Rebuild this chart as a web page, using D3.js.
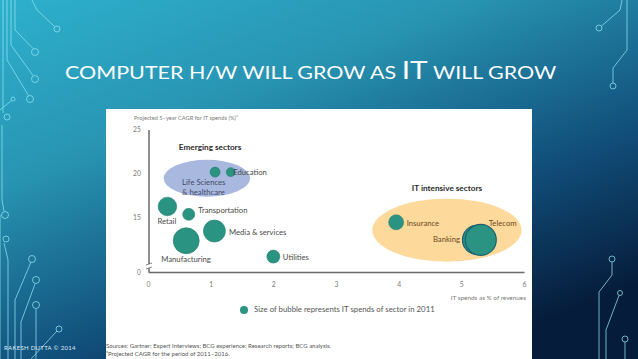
<!DOCTYPE html>
<html>
<head>
<meta charset="utf-8">
<script src="https://cdn.jsdelivr.net/npm/d3@7"></script>
<style>
  html, body { margin: 0; padding: 0; overflow: hidden; }
  svg { display: block; }
</style>
</head>
<body>
<div id="chart"></div>
<script>
// chart values
const sectors = ["Life Sciences & healthcare", "Education", "Retail", "Transportation", "Manufacturing",
  "Media & services", "Utilities", "Insurance", "Banking", "Telecom"];
const itSpendPct = [1.07, 1.32, 0.31, 0.65, 0.61, 1.06, 2.0, 3.96, 5.25, 5.31];  // x: IT spends as % of revenues
const cagr = [20.1, 20.1, 16.2, 15.3, 12.3, 13.4, 10.5, 14.4, 12.4, 12.4];      // y: projected 5-yr CAGR (%)
const spendSize = [25, 20, 86, 36, 169, 121, 42, 56, 210, 240];                 // bubble size: IT spends 2011
const xTicks = [0, 1, 2, 3, 4, 5, 6];
const yTicks = [0, 15, 20, 25];

// label placement (px, relative to bubble centre)
const labelPos = {
  "Education": { dx: 2.5, dy: 1, anchor: "start" },
  "Retail": { dx: -10, dy: 16, anchor: "start" },
  "Transportation": { dx: 9.5, dy: -3, anchor: "start" },
  "Manufacturing": { dx: -25, dy: 19.5, anchor: "start" },
  "Media & services": { dx: 14.5, dy: 2, anchor: "start" },
  "Utilities": { dx: 9.5, dy: 1, anchor: "start" },
  "Insurance": { dx: 10.5, dy: 1.5, anchor: "start" },
  "Banking": { dx: -17, dy: 0.5, anchor: "end" },
  "Telecom": { dx: 8, dy: -16, anchor: "start" }
};

const W = 638, H = 359;

const svg = d3.select("#chart")
  .append("svg")
  .attr("width", W)
  .attr("height", H);

// slide background
const defs = svg.append("defs");
const grad = defs.append("linearGradient")
  .attr("id", "bg")
  .attr("x1", 0).attr("y1", 0).attr("x2", 0.7).attr("y2", 1);
grad.append("stop").attr("offset", "0%").attr("stop-color", "#2db0cd");
grad.append("stop").attr("offset", "35%").attr("stop-color", "#2894b2");
grad.append("stop").attr("offset", "70%").attr("stop-color", "#11507c");
grad.append("stop").attr("offset", "100%").attr("stop-color", "#061c3b");

svg.append("rect").attr("width", W).attr("height", H).attr("fill", "url(#bg)");

// circuit decorations
const deco = svg.append("g")
  .attr("fill", "none")
  .attr("stroke", "#8fe3f2")
  .attr("stroke-opacity", 0.75)
  .attr("stroke-width", 1);
const decoPaths = [
  "M32,0 L37,10 L54.5,26.5", "M15,0 L15,30 L33,48.5", "M11,0 L11,45 L33,75.5",
  "M7,0 L7,60 L28.5,95.5", "M0,110 L11.5,100.5", "M3,0 L3,113", "M2,125 L2,200 L4,211",
  "M0,215 L0,359", "M31,262 L15,300 L15,359", "M35,284 L21,322 L21,359",
  "M36,309 L36,359", "M57,331 L31,359", "M4,243 L8,260 L8,359",
  "M627,0 L627,50 L613,68 L613,83", "M622,0 L620,10 L601.5,26",
  "M612,262 L612,275 L599,292 L599,359", "M619,295.5 L606,330 L606,359", "M625,342 L625,359"
];
decoPaths.forEach(p => deco.append("path").attr("d", p));
[[57, 29, 3], [35, 52, 3.5], [35, 79, 3.5], [30, 99, 3.5], [13, 99, 2], [7, 117, 3],
 [5, 215, 3.5], [6, 239, 3], [32, 259, 3.5], [36, 280, 3.5], [36, 305, 3.5], [59, 329, 3],
 [599, 28, 3], [613, 86, 3], [612, 259, 3], [620, 293, 2.5], [625, 339, 3]]
  .forEach(c => deco.append("circle").attr("cx", c[0]).attr("cy", c[1]).attr("r", c[2]));

// title
const title = svg.append("text")
  .attr("fill", "#ffffff")
  .attr("font-family", "Lato, 'DejaVu Sans', sans-serif")
  .attr("font-size", 18)
  .attr("transform", "translate(65,79)");
title.append("tspan").text("COMPUTER H/W WILL GROW AS ");
title.append("tspan").attr("font-size", 25).text("IT");
title.append("tspan").text(" WILL GROW");
const tw = title.node().getBBox().width;
title.attr("transform", `translate(65,79) scale(${492 / tw},1)`);

// footer
svg.append("text")
  .attr("x", 4).attr("y", 350)
  .attr("fill", "#dfeaf3")
  .attr("font-family", "Lato, sans-serif")
  .attr("font-size", 6)
  .attr("letter-spacing", 0.3)
  .text("RAKESH DUTTA © 2014");

// white chart panel
svg.append("rect")
  .attr("x", 106).attr("y", 109)
  .attr("width", 426).attr("height", 250)
  .attr("fill", "#ffffff");

// scales
const x = d3.scaleLinear().domain([0, 6]).range([148, 524]);
// broken y axis: 0 sits just under the 10 level
const y = d3.scaleLinear().domain([0, 10, 25]).range([272, 261, 129]);
const r = d3.scaleSqrt().domain([0, 240]).range([0, 15.5]);

const chart = svg.append("g").attr("font-family", "Lato, 'Open Sans', sans-serif");

// sector group ellipses
chart.append("ellipse")
  .attr("cx", x(0.94)).attr("cy", y(19.4))
  .attr("rx", x(0.69) - x(0)).attr("ry", y(17.3) - y(19.4))
  .attr("fill", "#a9b8df");
chart.append("ellipse")
  .attr("cx", x(4.77)).attr("cy", y(13.5))
  .attr("rx", x(1.19) - x(0)).attr("ry", y(9.3) - y(13.5))
  .attr("fill", "#fdd99c");

chart.append("text")
  .attr("x", x(0.99)).attr("y", y(22.6))
  .attr("text-anchor", "middle")
  .attr("font-size", 8.2).attr("font-weight", "bold").attr("fill", "#2b2b2b")
  .text("Emerging sectors");
chart.append("text")
  .attr("x", x(4.77)).attr("y", y(17.9))
  .attr("text-anchor", "middle")
  .attr("font-size", 8.2).attr("font-weight", "bold").attr("fill", "#2b2b2b")
  .text("IT intensive sectors");

// axes
const xAxis = chart.append("g")
  .attr("transform", `translate(0,${y(0)})`)
  .call(d3.axisBottom(x).tickValues(xTicks).tickSize(0).tickPadding(10).tickFormat(d3.format("d")));
xAxis.select(".domain").attr("stroke", "#6a6a6a").attr("stroke-width", 1.5);
xAxis.selectAll("text").attr("fill", "#7a7a7a").attr("font-size", 6.8).attr("font-family", "Lato, sans-serif");

const yAxis = chart.append("g")
  .attr("transform", `translate(${x(0) + 1},0)`)
  .call(d3.axisLeft(y).tickValues(yTicks).tickSize(0).tickPadding(8));
yAxis.select(".domain").remove();
yAxis.selectAll("text").attr("fill", "#7a7a7a").attr("font-size", 6.8).attr("font-family", "Lato, sans-serif");

// y axis line with break
const ax = x(0) + 1;
chart.append("path")
  .attr("d", `M${ax},${y(25) + 1} L${ax},${y(0) - 8}`)
  .attr("stroke", "#6a6a6a").attr("stroke-width", 1.5).attr("fill", "none");
chart.append("path")
  .attr("d", `M${ax},${y(0) - 4} L${ax},${y(0)}`)
  .attr("stroke", "#6a6a6a").attr("stroke-width", 1.5).attr("fill", "none");
chart.append("path")
  .attr("d", `M${ax - 3},${y(0) - 7} L${ax + 3},${y(0) - 9} M${ax - 3},${y(0) - 3} L${ax + 3},${y(0) - 5}`)
  .attr("stroke", "#6a6a6a").attr("stroke-width", 0.8).attr("fill", "none");

chart.append("text")
  .attr("x", 134).attr("y", 120)
  .attr("font-size", 5.7).attr("fill", "#7a7a7a")
  .text("Projected 5–year CAGR for IT spends (%)¹");

chart.append("text")
  .attr("x", x(6) + 2).attr("y", 300)
  .attr("text-anchor", "end")
  .attr("font-size", 6.4).attr("fill", "#7a7a7a")
  .text("IT spends as % of revenues");

// bubbles
const data = sectors.map((s, i) => ({ name: s, x: itSpendPct[i], y: cagr[i], size: spendSize[i] }));

chart.append("g")
  .selectAll("circle")
  .data(data)
  .join("circle")
  .attr("cx", d => x(d.x))
  .attr("cy", d => y(d.y))
  .attr("r", d => r(d.size))
  .attr("fill", "#2b9382")
  .attr("stroke", d => d.x > 5 ? "#1d5f73" : "#23806f")
  .attr("stroke-width", d => d.x > 5 ? 1.2 : 0.6);

// bubble labels
chart.append("g")
  .selectAll("text")
  .data(data.filter(d => labelPos[d.name]))
  .join("text")
  .attr("x", d => x(d.x) + labelPos[d.name].dx)
  .attr("y", d => y(d.y) + labelPos[d.name].dy)
  .attr("text-anchor", d => labelPos[d.name].anchor)
  .attr("dominant-baseline", "middle")
  .attr("font-size", 7.7)
  .attr("fill", d => d.x > 3 ? "#6a4a1a" : "#4a4a4a")
  .text(d => d.name);

// life sciences label sits inside the ellipse, two lines
const ls = data[0];
chart.append("text")
  .attr("x", x(ls.x) - 33).attr("y", y(ls.y) + 11)
  .attr("dominant-baseline", "middle")
  .attr("font-size", 7.7).attr("fill", "#3f4a66")
  .text("Life Sciences");
chart.append("text")
  .attr("x", x(ls.x) - 33).attr("y", y(ls.y) + 20.5)
  .attr("dominant-baseline", "middle")
  .attr("font-size", 7.7).attr("fill", "#3f4a66")
  .text("& healthcare");

// legend
chart.append("circle")
  .attr("cx", 244).attr("cy", 310).attr("r", 4)
  .attr("fill", "#2b9382");
chart.append("text")
  .attr("x", 254).attr("y", 310)
  .attr("dominant-baseline", "middle")
  .attr("font-size", 7.8).attr("fill", "#555")
  .text("Size of bubble represents IT spends of sector in 2011");

// sources
chart.append("text")
  .attr("x", 106).attr("y", 348)
  .attr("font-size", 6).attr("fill", "#555")
  .text("Sources: Gartner; Expert Interviews; BCG experience; Research reports; BCG analysis.");
chart.append("text")
  .attr("x", 106).attr("y", 355.5)
  .attr("font-size", 6).attr("fill", "#555")
  .text("¹Projected CAGR for the period of 2011–2016.");
</script>
</body>
</html>
